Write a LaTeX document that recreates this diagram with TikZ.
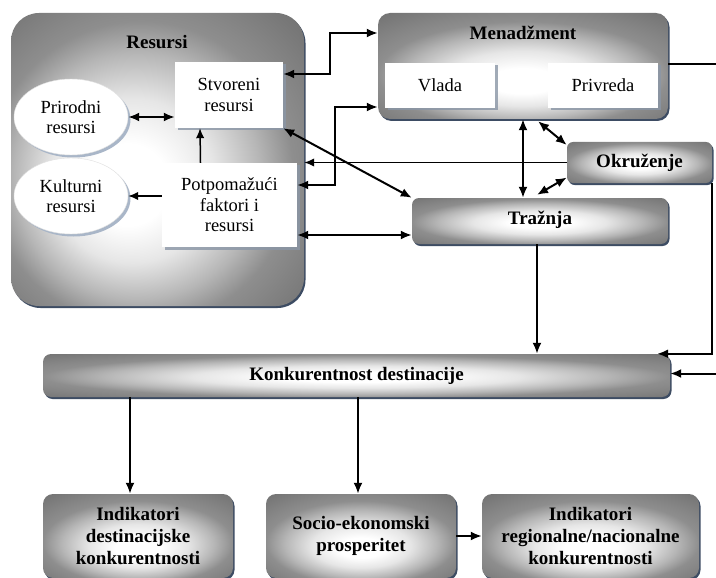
\documentclass[tikz,border=0pt]{standalone}
\usepackage{fontspec}
\setmainfont{Liberation Serif}
\usetikzlibrary{arrows.meta,shapes.geometric,shadows,calc}

\definecolor{rim}{HTML}{3D4C63}
\definecolor{boxshadow}{HTML}{8A96A6}
\definecolor{ellshadow}{HTML}{A9B6C8}
\definecolor{gA}{HTML}{E6E6E6}
\definecolor{gB}{HTML}{B6B6B6}
\definecolor{gC}{HTML}{8E8E8E}
\definecolor{gD}{HTML}{747474}

% white glow in the middle of the grey panels
\pgfdeclareradialshading{glow}{\pgfpoint{0bp}{-2bp}}{color(0bp)=(white); color(6bp)=(white); color(13bp)=(gA); color(20bp)=(gB); color(25bp)=(gC); color(36bp)=(gD); color(50bp)=(gD)}
\pgfdeclareradialshading{glowlow}{\pgfpoint{0bp}{-8bp}}{color(0bp)=(white); color(6bp)=(white); color(13bp)=(gA); color(20bp)=(gB); color(25bp)=(gC); color(36bp)=(gD); color(50bp)=(gD)}
\pgfdeclareradialshading{glowres}{\pgfpoint{-6bp}{-5bp}}{color(0bp)=(white); color(7bp)=(white); color(14bp)=(gA); color(21bp)=(gB); color(26bp)=(gC); color(36bp)=(gD); color(50bp)=(gD)}

\begin{document}
\begin{tikzpicture}[
  x=1pt, y=-1pt,
  boldtxt/.style={font=\bfseries\fontsize{19}{22}\selectfont, align=center, inner sep=0pt},
  regtxt/.style={font=\fontsize{18.5}{20.5}\selectfont, align=center, inner sep=0pt},
  gbox/.style={boldtxt, shading=glow, rounded corners=9pt,
    drop shadow={shadow xshift=1.5pt, shadow yshift=-2pt, fill=rim, opacity=1}},
  wbox/.style={regtxt, fill=white,
    drop shadow={shadow xshift=2.5pt, shadow yshift=-2.5pt, fill=boxshadow, opacity=0.8}},
  ell/.style={regtxt, ellipse, fill=white, draw=gray!25, line width=0.4pt,
    minimum width=114pt, minimum height=76pt,
    drop shadow={shadow xshift=2.5pt, shadow yshift=-2.5pt, fill=ellshadow, opacity=1}},
  conn/.style={line width=2pt, -{Latex[length=11pt,width=9pt]}},
  both/.style={line width=2pt, {Latex[length=11pt,width=9pt]}-{Latex[length=11pt,width=9pt]}},
  thinconn/.style={line width=1.5pt, -{Latex[length=10pt,width=8.5pt]}},
]
\useasboundingbox (0,0) rectangle (716,578);

% ---- Resursi panel ----
\node[gbox, shading=glowres, rounded corners=28pt, minimum width=293pt, minimum height=293pt] (res) at (157.5,159.5) {};
\node[boldtxt] (reslabel) at (157,42) {Resursi};
\node[ell] (pri) at (71,117) {Prirodni\\resursi};
\node[ell] (kul) at (71,196) {Kulturni\\resursi};
\node[wbox, minimum width=108pt, minimum height=66pt] (stv) at (229,95) {Stvoreni\\resursi};
\node[wbox, minimum width=135pt, minimum height=84pt] (pot) at (229.5,205) {Potpomažući\\faktori i\\resursi};

% ---- Menadžment panel ----
\node[gbox, shading=glowlow, rounded corners=12pt, minimum width=290pt, minimum height=106pt] (men) at (523,66) {};
\node[boldtxt] (menlabel) at (523,33) {Menadžment};
\node[wbox, minimum width=110pt, minimum height=45pt] (vla) at (440,85.5) {Vlada};
\node[wbox, minimum width=110pt, minimum height=45pt] (prv) at (603,85.5) {Privreda};

% ---- other blocks ----
\node[gbox, rounded corners=6pt, minimum width=145pt, minimum height=41pt] (okr) at (639.5,162.5) {Okruženje};
\node[gbox, rounded corners=7pt, minimum width=256pt, minimum height=46pt] (tra) at (540,221) {\raisebox{6pt}{Tražnja}};
\node[gbox, rounded corners=8pt, minimum width=627pt, minimum height=43pt] (kon) at (356.5,375.5) {Konkurentnost destinacije};
\node[gbox, shading=glowlow, rounded corners=10pt, minimum width=190pt, minimum height=84pt] (ind) at (138,536) {Indikatori\\destinacijske\\konkurentnosti};
\node[gbox, shading=glowlow, rounded corners=10pt, minimum width=190pt, minimum height=84pt] (soc) at (361,536) {Socio-ekonomski\\prosperitet};
\node[gbox, shading=glowlow, rounded corners=10pt, minimum width=217pt, minimum height=84pt] (reg) at (590.5,536) {Indikatori\\regionalne/nacionalne\\konkurentnosti};

% ---- connectors inside Resursi ----
\draw[both] (pri.east) -- (pri.east -| stv.west);
\draw[thinconn] ([xshift=-29pt]pot.north) -- ([xshift=-29pt]stv.south);
\draw[thinconn] (pot.west |- kul.east) -- (kul.east);

% ---- Resursi <-> Menadžment / Tražnja / Okruženje ----
\draw[both] ([yshift=21pt]stv.east) -- ++(47,0) |- ([yshift=33pt]men.west);
\draw[both] ([yshift=20pt]pot.east) -- ++(38,0) |- ([yshift=-41pt]men.west);
\draw[thinconn] (okr.west) -- (okr.west -| res.east);
\draw[both] (stv.south east) -- (tra.north west);
\draw[both] ([yshift=-30pt]pot.east) -- ([yshift=-30pt]pot.east -| tra.west);

% ---- Menadžment, Okruženje, Tražnja ----
\draw[both] (men.south) -- (men.south |- tra.north);
\draw[both] ([xshift=15pt,yshift=-2pt]men.south) -- ([yshift=17.5pt]okr.west);
\draw[both] ([xshift=-3pt,yshift=3pt]tra.north) -- ([yshift=-15pt]okr.west);

% ---- into Konkurentnost destinacije ----
\coordinate (tdown) at ([xshift=-3pt]tra.south);
\draw[conn] (tdown) -- (tdown |- kon.north);
\draw[conn] (okr.south east) |- ([xshift=-13pt]kon.north east);
\draw[conn] ([yshift=2pt]men.east) -- ++(60,0) |- ([yshift=2pt]kon.east);

% ---- outcomes ----
\coordinate (itop) at ([xshift=-8pt]ind.north);
\coordinate (stop) at ([xshift=-3pt]soc.north);
\draw[conn] (itop |- kon.south) -- (itop);
\draw[conn] (stop |- kon.south) -- (stop);
\draw[conn] (soc.east) -- (reg.west);
\end{tikzpicture}
\end{document}
